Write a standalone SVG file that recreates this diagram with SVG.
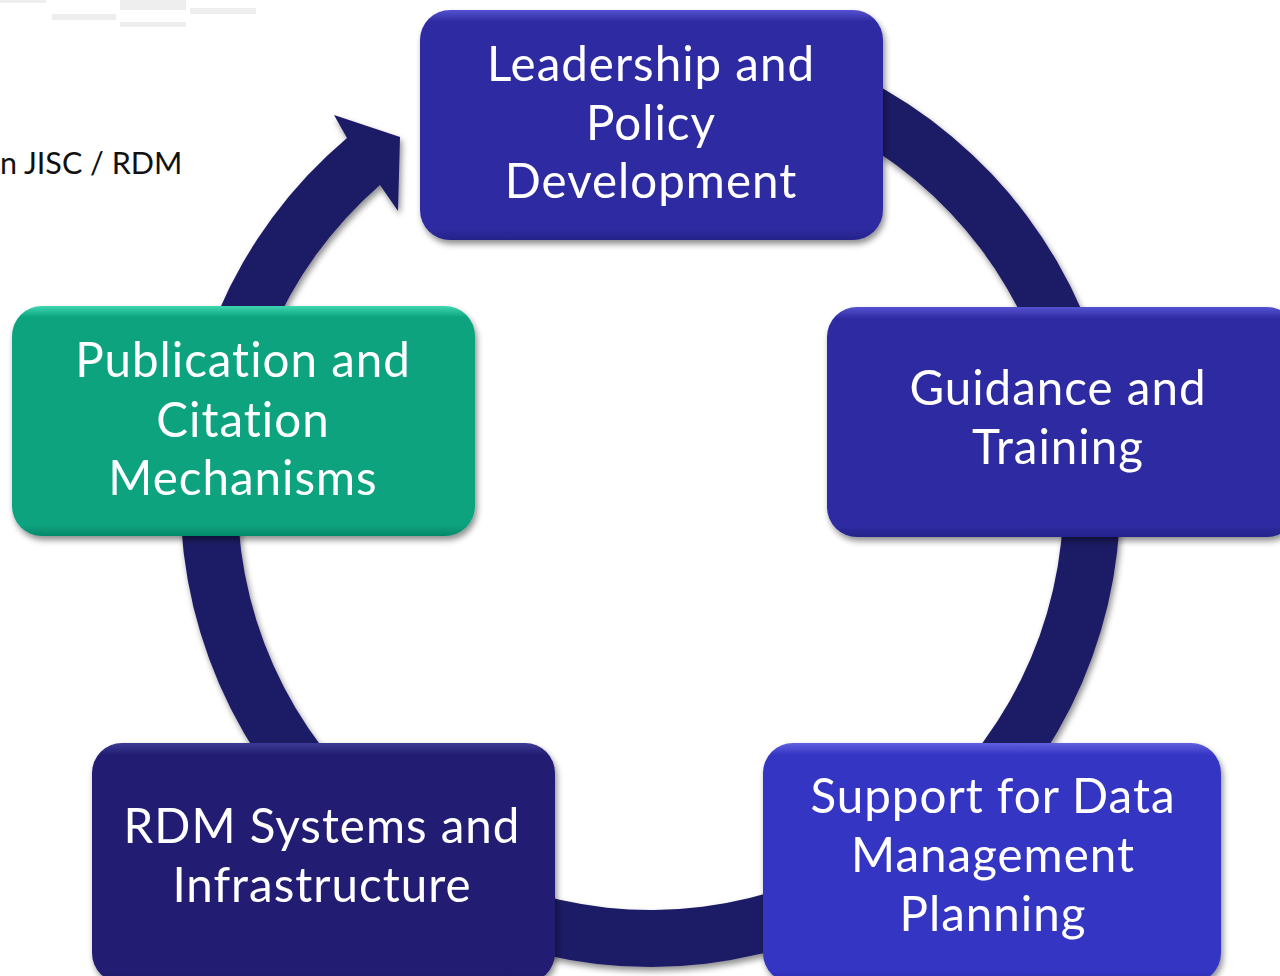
<svg xmlns="http://www.w3.org/2000/svg" width="1280" height="976" viewBox="0 0 1280 976">
<style>
  .lbl { font-family: Lato, "Open Sans", "Liberation Sans", sans-serif; font-size: 47.5px; letter-spacing: 1px; font-variant-ligatures: none; fill: #ffffff; text-anchor: middle; }
  .note { font-family: Lato, "Open Sans", "Liberation Sans", sans-serif; font-size: 30.5px; fill: #111111; }
  .box { filter: url(#sh); }
</style>
<defs>
  <filter id="sh" x="-10%" y="-10%" width="125%" height="130%">
    <feGaussianBlur in="SourceAlpha" stdDeviation="3"/>
    <feOffset dx="2" dy="4" result="b"/>
    <feComponentTransfer><feFuncA type="linear" slope="0.45"/></feComponentTransfer>
    <feMerge><feMergeNode/><feMergeNode in="SourceGraphic"/></feMerge>
  </filter>
  <linearGradient id="gBlue" x1="0" y1="0" x2="0" y2="1">
    <stop offset="0" stop-color="#5552d0"/>
    <stop offset="0.05" stop-color="#2e2ba1"/>
    <stop offset="0.95" stop-color="#2e2ba1"/>
    <stop offset="1" stop-color="#25238a"/>
  </linearGradient>
  <linearGradient id="gBright" x1="0" y1="0" x2="0" y2="1">
    <stop offset="0" stop-color="#6060e0"/>
    <stop offset="0.05" stop-color="#3535c4"/>
    <stop offset="0.95" stop-color="#3535c4"/>
    <stop offset="1" stop-color="#2b2ba6"/>
  </linearGradient>
  <linearGradient id="gDark" x1="0" y1="0" x2="0" y2="1">
    <stop offset="0" stop-color="#3d3a96"/>
    <stop offset="0.05" stop-color="#221e72"/>
    <stop offset="0.95" stop-color="#221e72"/>
    <stop offset="1" stop-color="#1b185e"/>
  </linearGradient>
  <linearGradient id="gGreen" x1="0" y1="0" x2="0" y2="1">
    <stop offset="0" stop-color="#3fd6b0"/>
    <stop offset="0.05" stop-color="#08a37f"/>
    <stop offset="0.95" stop-color="#08a37f"/>
    <stop offset="1" stop-color="#06886a"/>
  </linearGradient>
</defs>
<rect width="1280" height="976" fill="#ffffff"/>
<g id="faint-marks" fill="#eeeeee">
  <rect x="0" y="0" width="46" height="3"/>
  <rect x="52" y="14" width="64" height="6"/>
  <rect x="120" y="0" width="66" height="10"/>
  <rect x="120" y="22" width="66" height="5"/>
  <rect x="190" y="8" width="66" height="6"/>
</g>
<text class="note" x="0" y="174">n JISC / RDM</text>
<g id="connectors">
  <path d="M650,27 A470,470 0 1 1 347,138 L334,115 L400,137 L398,211 L380,185 A413,413 0 1 0 650,84 Z" fill="#1e1b66" filter="url(#sh)"/>
</g>
<g id="node-leadership" class="box">
  <rect x="420" y="10" width="463" height="230" rx="30" fill="url(#gBlue)"/>
  <text class="lbl" x="651" y="81">Leadership and</text>
  <text class="lbl" x="651" y="140">Policy</text>
  <text class="lbl" x="651" y="198">Development</text>
</g>
<g id="node-guidance" class="box">
  <rect x="827" y="307" width="470" height="230" rx="30" fill="url(#gBlue)"/>
  <text class="lbl" x="1058" y="405">Guidance and</text>
  <text class="lbl" x="1058" y="464">Training</text>
</g>
<g id="node-support" class="box">
  <rect x="763" y="743" width="458" height="240" rx="30" fill="url(#gBright)"/>
  <text class="lbl" x="993" y="813">Support for Data</text>
  <text class="lbl" x="993" y="872">Management</text>
  <text class="lbl" x="993" y="931">Planning</text>
</g>
<g id="node-rdm" class="box">
  <rect x="92" y="743" width="463" height="240" rx="30" fill="url(#gDark)"/>
  <text class="lbl" x="322" y="843">RDM Systems and</text>
  <text class="lbl" x="322" y="902">Infrastructure</text>
</g>
<g id="node-publication" class="box">
  <rect x="12" y="306" width="463" height="230" rx="30" fill="url(#gGreen)"/>
  <text class="lbl" x="243" y="377">Publication and</text>
  <text class="lbl" x="243" y="437">Citation</text>
  <text class="lbl" x="243" y="495">Mechanisms</text>
</g>
</svg>
